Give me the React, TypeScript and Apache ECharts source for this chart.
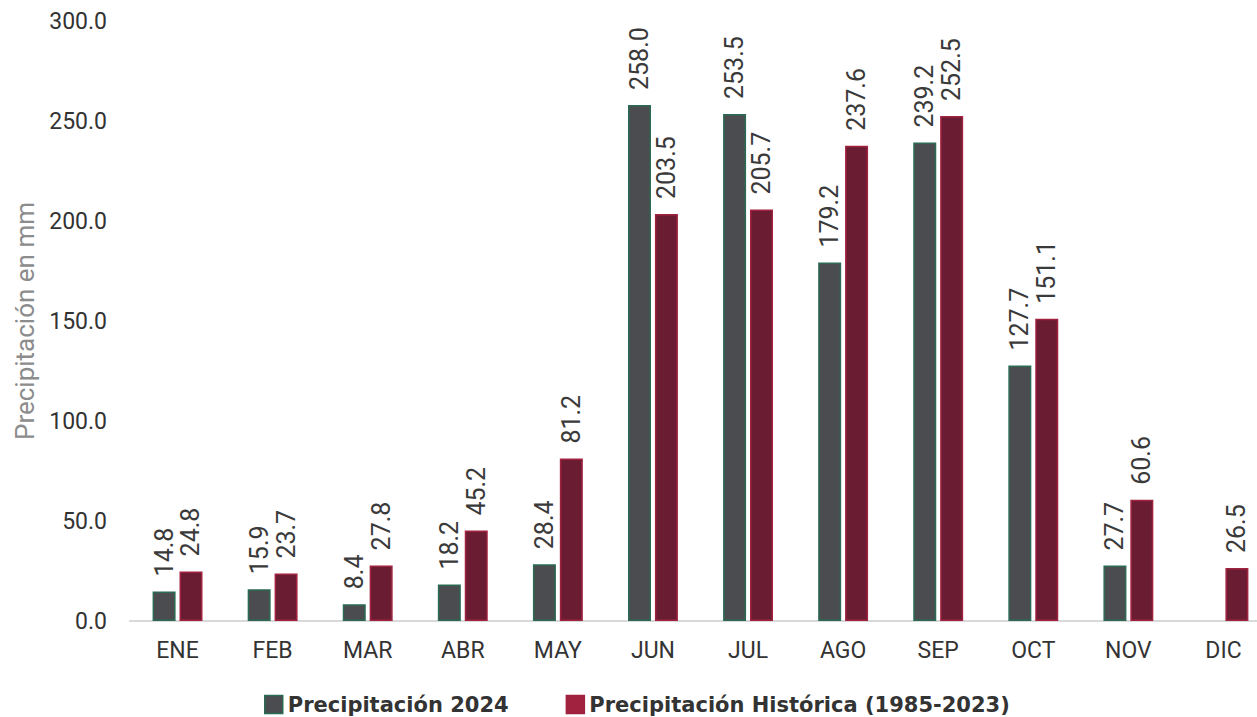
import React, { useEffect, useRef } from "react";
import * as echarts from "echarts";

const months = ["ENE", "FEB", "MAR", "ABR", "MAY", "JUN", "JUL", "AGO", "SEP", "OCT", "NOV", "DIC"];
const precip2024: (number | null)[] = [14.8, 15.9, 8.4, 18.2, 28.4, 258.0, 253.5, 179.2, 239.2, 127.7, 27.7, null];
const precipHist: number[] = [24.8, 23.7, 27.8, 45.2, 81.2, 203.5, 205.7, 237.6, 252.5, 151.1, 60.6, 26.5];
const seriesNames = ["Precipitación 2024", "Precipitación Histórica (1985-2023)"];
const yAxisTitle = "Precipitación en mm";

export default function App() {
  const ref = useRef<HTMLDivElement>(null);
  useEffect(() => {
    if (!ref.current) return;
    const chart = echarts.init(ref.current, undefined, { renderer: "svg" });
    const labelCfg = {
      show: true,
      position: "top" as const,
      rotate: 90,
      align: "left" as const,
      verticalAlign: "middle" as const,
      distance: 15,
      color: "#3a3a3a",
      fontFamily: "'Liberation Sans Narrow', Roboto",
      fontSize: 25,
      formatter: (p: any) => (p.value == null ? "" : Number(p.value).toFixed(1)),
    };
    chart.setOption({
      animation: false,
      backgroundColor: "#ffffff",
      grid: { left: 130, width: 1141, top: 21, height: 600, containLabel: false, outerBoundsMode: "none" },
      legend: {
        top: 694,
        left: 264,
        padding: 0,
        itemWidth: 18,
        itemHeight: 18,
        itemGap: 57,
        icon: "rect",
        textStyle: { fontFamily: "DejaVu Sans", fontWeight: "bold", fontSize: 21, color: "#333333" },
        data: [
          { name: seriesNames[0], itemStyle: { color: "#4a4c50", borderColor: "#2b6a53", borderWidth: 1.5 } },
          { name: seriesNames[1], itemStyle: { color: "#a1223f", borderColor: "#a1223f", borderWidth: 1.5 } },
        ],
      },
      xAxis: {
        type: "category",
        data: months,
        axisLine: { show: true, lineStyle: { color: "#d9d9d9", width: 2 } },
        axisTick: { show: false },
        axisLabel: { color: "#333333", fontFamily: "Roboto", fontSize: 23, margin: 18 },
      },
      yAxis: {
        type: "value",
        min: 0,
        max: 300,
        interval: 50,
        name: yAxisTitle,
        nameLocation: "middle",
        nameGap: 84,
        nameTextStyle: { color: "#8c8c8c", fontFamily: "Roboto", fontSize: 26 },
        axisLine: { show: false },
        axisTick: { show: false },
        splitLine: { show: false },
        axisLabel: {
          color: "#333333",
          fontFamily: "Roboto",
          fontSize: 23,
          margin: 23,
          formatter: (v: number) => v.toFixed(1),
        },
      },
      series: [
        {
          name: seriesNames[0],
          type: "bar",
          data: precip2024,
          barWidth: 23,
          barGap: "17%",
          itemStyle: { color: "#4a4c50", borderColor: "#2b6a53", borderWidth: 1.5 },
          label: labelCfg,
        },
        {
          name: seriesNames[1],
          type: "bar",
          data: precipHist,
          barWidth: 23,
          barGap: "17%",
          itemStyle: { color: "#6a1c32", borderColor: "#a1223f", borderWidth: 1.5 },
          label: labelCfg,
        },
      ],
    });
    return () => chart.dispose();
  }, []);
  return <div ref={ref} style={{ position: "fixed", left: 0, top: 0, width: 1257, height: 717 }} />;
}
